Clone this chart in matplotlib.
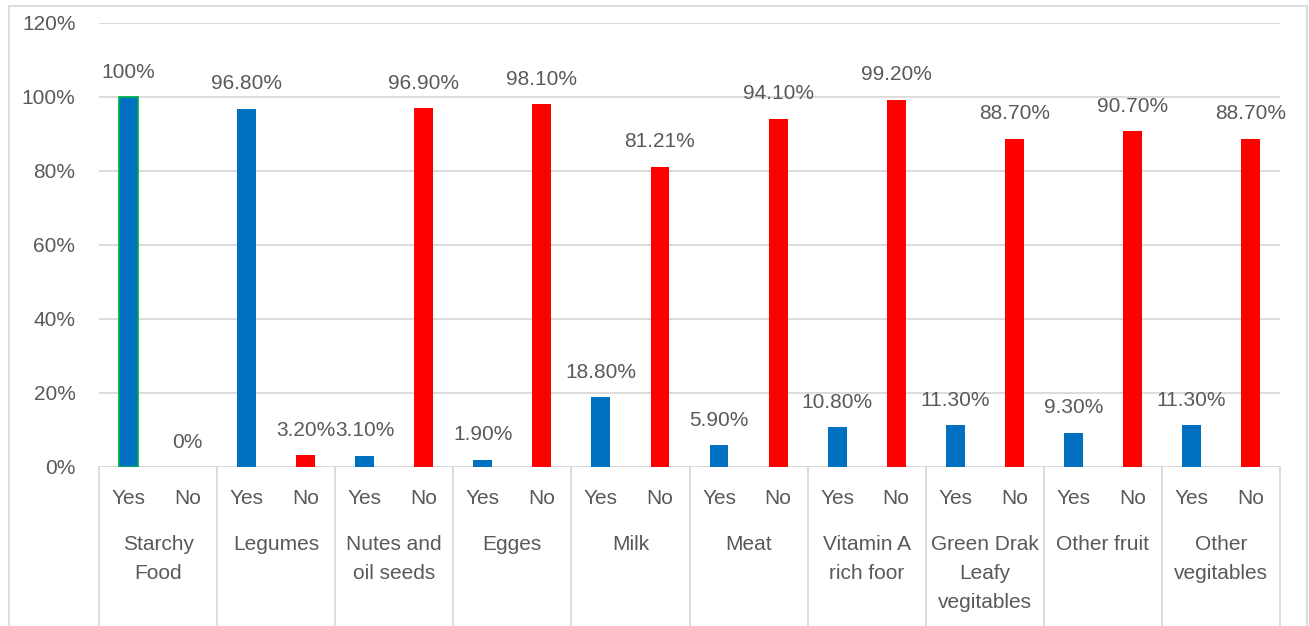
import matplotlib
matplotlib.use("Agg")
import matplotlib.pyplot as plt
from matplotlib.lines import Line2D
from matplotlib.transforms import blended_transform_factory

plt.rcParams['font.family'] = ['Liberation Sans', 'DejaVu Sans']

# data
groups = ["Starchy\nFood", "Legumes", "Nutes and\noil seeds", "Egges", "Milk",
          "Meat", "Vitamin A\nrich foor", "Green Drak\nLeafy\nvegitables",
          "Other fruit", "Other\nvegitables"]
yes_vals = [100, 96.8, 3.1, 1.9, 18.8, 5.9, 10.8, 11.3, 9.3, 11.3]
no_vals = [0, 3.2, 96.9, 98.1, 81.21, 94.1, 99.2, 88.7, 90.7, 88.7]
yes_labels = ["100%", "96.80%", "3.10%", "1.90%", "18.80%", "5.90%",
              "10.80%", "11.30%", "9.30%", "11.30%"]
no_labels = ["0%", "3.20%", "96.90%", "98.10%", "81.21%", "94.10%",
             "99.20%", "88.70%", "90.70%", "88.70%"]
sub_labels = ["Yes", "No"]

W, H = 1309, 626
fig = plt.figure(figsize=(W / 100, H / 100), dpi=100)
ax = fig.add_axes([99 / W, 1 - 467 / H, (1280 - 99) / W, (467 - 23) / H])

txt_col = '#595959'
grid_col = '#D9D9D9'
blue = '#0070C0'
red = '#FF0000'
fs = 15

n = len(groups)
xy = [2 * i for i in range(n)]
xn = [2 * i + 1 for i in range(n)]
bw = 0.32

ax.bar(xy, yes_vals, width=bw, color=blue, zorder=3)
ax.bar(xn, no_vals, width=bw, color=red, zorder=3)
# green outline on the first bar
ax.bar([xy[0]], [yes_vals[0]], width=bw, color=blue, edgecolor='#00B050',
       linewidth=1.3, zorder=4)

for x, v, lab in zip(xy + xn, yes_vals + no_vals, yes_labels + no_labels):
    ax.annotate(lab, (x, v), xytext=(0, 18), textcoords='offset points',
                ha='center', va='center', fontsize=fs, color=txt_col)

ax.set_xlim(-0.5, 2 * n - 0.5)
ax.set_ylim(0, 120)
ax.set_yticks(range(0, 121, 20))
ax.set_yticklabels([f"{t}%" for t in range(0, 121, 20)], fontsize=fs, color=txt_col)
ax.tick_params(axis='y', length=0, pad=17)
ax.set_xticks([])
for s in ax.spines.values():
    s.set_visible(False)
ax.grid(axis='y', color=grid_col, linewidth=1.3, zorder=0)
ax.axhline(0, color=grid_col, linewidth=1.3, zorder=2)

# category axis below the plot
tr = blended_transform_factory(ax.transData, fig.transFigure)
for i in range(n + 1):
    xb = 2 * i - 0.5
    fig.add_artist(Line2D([xb, xb], [0, 1 - 467 / H], transform=tr,
                          color=grid_col, linewidth=1.3))
for i in range(n):
    ax.text(xy[i], 1 - 499 / H, sub_labels[0], transform=tr, ha='center',
            va='center', fontsize=fs, color=txt_col)
    ax.text(xn[i], 1 - 499 / H, sub_labels[1], transform=tr, ha='center',
            va='center', fontsize=fs, color=txt_col)
    ax.text(2 * i + 0.5, 1 - 535 / H, groups[i], transform=tr, ha='center',
            va='top', fontsize=fs, color=txt_col, linespacing=1.68)

# outer chart border
bx0, bx1, by0 = 9 / W, 1307 / W, 1 - 6 / H
for xs, ys in [([bx0, bx0], [0, by0]), ([bx0, bx1], [by0, by0]),
               ([bx1, bx1], [by0, 0])]:
    fig.add_artist(Line2D(xs, ys, color=grid_col, linewidth=1.3))

fig.savefig("out.png", dpi=100)
